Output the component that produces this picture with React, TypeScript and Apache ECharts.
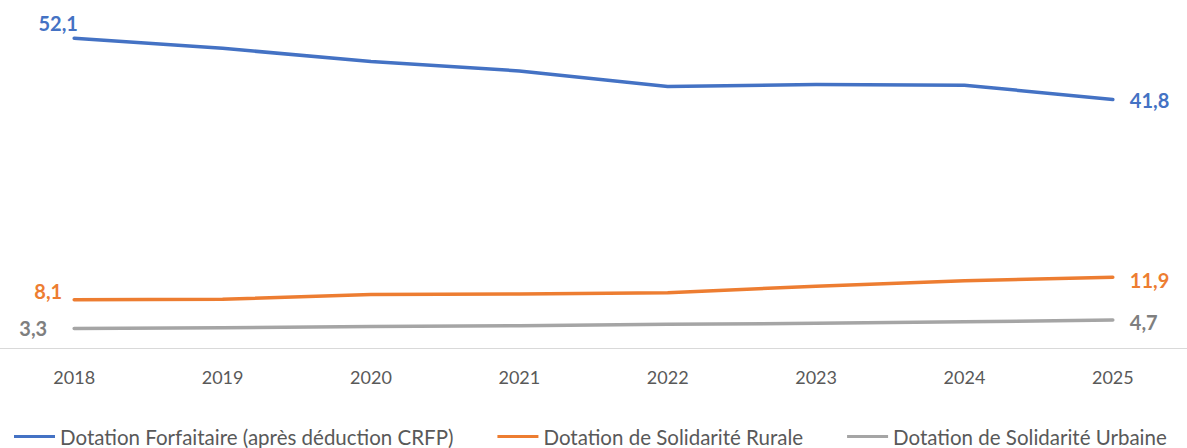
import React, { useEffect, useRef } from "react";
import * as echarts from "echarts";

const years = ["2018", "2019", "2020", "2021", "2022", "2023", "2024", "2025"];
const forfaitaire = [52.1, 50.4, 48.2, 46.6, 44.0, 44.3, 44.2, 41.8];
const rurale = [8.1, 8.2, 9.0, 9.1, 9.3, 10.4, 11.3, 11.9];
const urbaine = [3.3, 3.4, 3.6, 3.75, 4.0, 4.15, 4.4, 4.7];

const seriesNames = [
  "Dotation Forfaitaire (après déduction CRFP)",
  "Dotation de Solidarité Rurale",
  "Dotation de Solidarité Urbaine",
];
const colors = ["#4472C4", "#ED7D31", "#A5A5A5"];
const labelColors = ["#4472C4", "#ED7D31", "#7F7F7F"];

const FONT = "Lato, 'Open Sans', sans-serif";
const fmt = (v: number) => v.toFixed(1).replace(".", ",");

function buildData(values: number[], idx: number) {
  const firstLabel: any[] = [
    { position: "top", offset: [-16, 0] },
    { position: "left", distance: 12, offset: [0, -9] },
    { position: "left", distance: 27, offset: [0, 0] },
  ];
  const lastLabel: any[] = [
    { position: "right", distance: 17, offset: [0, 1] },
    { position: "right", distance: 17, offset: [0, 3] },
    { position: "right", distance: 17, offset: [0, 2] },
  ];
  return values.map((v, i) => {
    if (i === 0) {
      return { value: v, label: { show: true, ...firstLabel[idx] } };
    }
    if (i === values.length - 1) {
      return { value: v, label: { show: true, ...lastLabel[idx] } };
    }
    return { value: v };
  });
}

export default function App() {
  const ref = useRef<HTMLDivElement>(null);
  useEffect(() => {
    document.body.style.margin = "0";
    if (!ref.current) return;
    const chart = echarts.init(ref.current, undefined, { renderer: "svg" });
    const all = [forfaitaire, rurale, urbaine];
    chart.setOption({
      animation: false,
      backgroundColor: "#ffffff",
      grid: { left: -5, right: -13, top: 21, bottom: 100, containLabel: false },
      legend: {
        left: 14,
        top: 426,
        width: 1300,
        padding: 0,
        icon: "rect",
        itemWidth: 41,
        itemHeight: 3,
        itemGap: 44,
        textStyle: { fontFamily: FONT, fontSize: 20.5, color: "#595959" },
        data: seriesNames,
      },
      xAxis: {
        type: "category",
        data: years,
        boundaryGap: true,
        axisLine: { show: true, lineStyle: { color: "#D9D9D9", width: 1 } },
        axisTick: { show: false },
        axisLabel: { fontFamily: FONT, fontSize: 18, color: "#595959", margin: 20 },
      },
      yAxis: {
        type: "value",
        min: 0,
        max: 55,
        show: false,
        splitLine: { show: false },
      },
      series: all.map((vals, idx) => ({
        name: seriesNames[idx],
        type: "line",
        data: buildData(vals, idx),
        showSymbol: true,
        symbol: "circle",
        symbolSize: 0,
        color: colors[idx],
        lineStyle: { width: 3.5, color: colors[idx], cap: "round", join: "round" },
        label: {
          show: false,
          formatter: (p: any) => fmt(p.value),
          fontFamily: FONT,
          fontSize: 20,
          fontWeight: "bold",
          color: labelColors[idx],
        },
        emphasis: { disabled: true },
      })),
    });
    return () => chart.dispose();
  }, []);
  return <div ref={ref} style={{ width: 1187, height: 448 }} />;
}
